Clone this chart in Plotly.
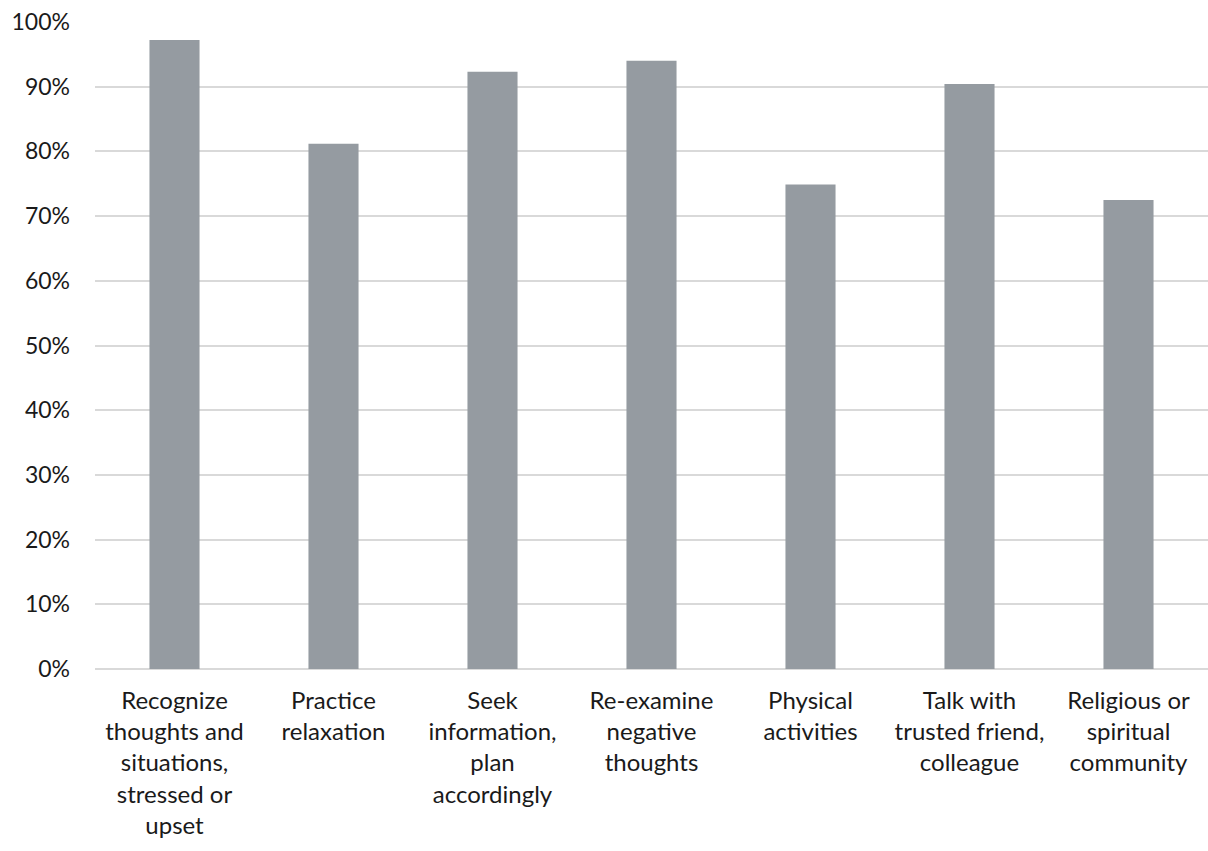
import plotly.graph_objects as go

categories = [
    "Recognize<br>thoughts and<br>situations,<br>stressed or<br>upset",
    "Practice<br>relaxation",
    "Seek<br>information,<br>plan<br>accordingly",
    "Re-examine<br>negative<br>thoughts",
    "Physical<br>activities",
    "Talk with<br>trusted friend,<br>colleague",
    "Religious or<br>spiritual<br>community",
]
values = [0.972, 0.812, 0.923, 0.940, 0.749, 0.904, 0.725]
y_ticks = [0, 0.1, 0.2, 0.3, 0.4, 0.5, 0.6, 0.7, 0.8, 0.9, 1.0]

fig = go.Figure(
    go.Bar(
        x=list(range(len(categories))),
        y=values,
        marker=dict(color="#959ba1", line=dict(width=0)),
        width=0.315,
    )
)

fig.update_layout(
    width=1208,
    height=851,
    margin=dict(l=95, r=0, t=22, b=182),
    paper_bgcolor="white",
    plot_bgcolor="white",
    showlegend=False,
    font=dict(family="Lato, Open Sans, sans-serif", size=23, color="#1a1a1a"),
)
fig.update_xaxes(
    tickmode="array",
    tickvals=list(range(len(categories))),
    ticktext=categories,
    range=[-0.5, len(categories) - 0.5],
    showgrid=False,
    showline=False,
    ticks="",
    ticklabelstandoff=15,
    tickfont=dict(size=24),
)
fig.update_yaxes(
    range=[0, 1],
    tickvals=y_ticks,
    tickformat=".0%",
    showgrid=True,
    gridcolor="#d9d9d9",
    gridwidth=1.5,
    zeroline=True,
    zerolinecolor="#d9d9d9",
    zerolinewidth=1.5,
    ticks="",
    ticklabelstandoff=24,
    tickfont=dict(size=23),
)

fig.write_html("out.html")
